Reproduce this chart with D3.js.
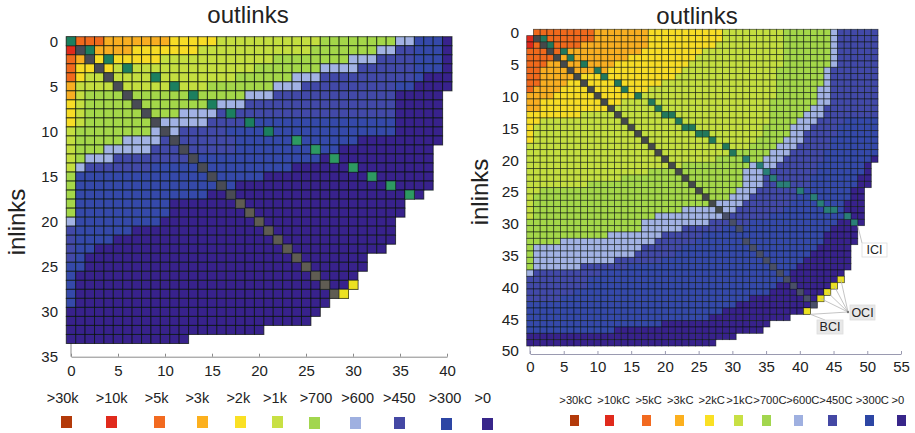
<!DOCTYPE html>
<html>
<head>
<meta charset="utf-8">
<script src="https://d3js.org/d3.v7.min.js"></script>
<style>
  body { margin: 0; background: #fff; }
  text { font-family: "Liberation Sans", Arial, sans-serif; fill: #222; }
</style>
</head>
<body>
<div id="chart"></div>
<script>
// Classes, strongest first
var classKeys = ["a", "b", "c", "d", "e", "f", "g", "h", "i", "j", "k"];
var legendLeft = [">30k", ">10k", ">5k", ">3k", ">2k", ">1k", ">700", ">600", ">450", ">300", ">0"];
var legendRight = [">30kC", ">10kC", ">5kC", ">3kC", ">2kC", ">1kC", ">700C", ">600C", ">450C", ">300C", ">0"];

var leftXTicks = [0, 5, 10, 15, 20, 25, 30, 35, 40];
var leftYTicks = [0, 5, 10, 15, 20, 25, 30, 35];
var rightXTicks = [0, 5, 10, 15, 20, 25, 30, 35, 40, 45, 50, 55];
var rightYTicks = [0, 5, 10, 15, 20, 25, 30, 35, 40, 45, 50];

// each row: class letter + column where that class starts
var leftRows = [
  "b0 c1 d4 e11 f16 g27 h35 j37 k40",
  "b0 c1 d3 e7 f14 g26 h33 i35 j37 k40",
  "c0 d1 e2 f10 g22 h30 i33 j37 k40",
  "c0 e1 f5 g20 h27 i31 j37 k40",
  "c0 e1 f2 g18 h24 i27 j37 k38",
  "d0 f1 g15 h22 i25 j35 k37",
  "d0 f1 g2 h19 i22 k35",
  "e0 f1 g2 h16 i19 k35",
  "e0 f1 g2 h12 i16 k35",
  "e0 f1 g2 h10 i15 j20 k35",
  "f0 g1 h9 i12 j17 k35",
  "f0 g1 h6 i10 j18 k31",
  "f0 g1 h4 i9 j18 k29",
  "f0 g1 h2 i5 j14 k27",
  "f0 h1 i2 j9 k24",
  "g0 j1 k21",
  "g0 j1 k18",
  "g0 j1 k15",
  "g0 j1 k11",
  "g0 j1 k11",
  "h0 j1 k10",
  "i0 j1 k7",
  "i0 j1 k5",
  "i0 j1 k3",
  "i0 j1 k2",
  "j0 k2",
  "j0 k1",
  "j0 k1",
  "j0 k1",
  "j0 k1",
  "k0",
  "k0",
  "k0",
  "k0"
];
var leftWidths = [41, 41, 41, 41, 41, 41, 40, 40, 40, 40, 40, 40, 39, 39, 39, 39, 39, 38, 36, 36,
  35, 35, 35, 34, 32, 32, 31, 31, 30, 28, 27, 26, 21, 13];

// [row, col]
var leftBci = [[1,1],[2,2],[3,3],[4,4],[5,5],[6,6],[7,7],[8,8],[9,9],[10,10],[11,11],[12,12],[13,13],[14,14],
  [15,15],[16,16],[17,17],[18,18],[19,19],[20,20],[21,21],[22,22],[23,23],[24,24],[25,25],[26,26],[27,27],[28,28]];
var leftIci = [[0,0],[1,2],[2,4],[3,6],[4,9],[5,11],[6,13],[7,15],[8,17],[9,19],[10,21],[11,24],[12,26],[13,28],
  [14,30],[15,32],[16,34],[17,36]];
var leftOci = [[27,30],[28,29]];

var rightRows = [
  "_0 c1 d10 e18 f29 g38 h45 i46",
  "b0 c1 d10 e18 f29 g38 h45 i46",
  "b0 c1 d8 e18 f28 g38 h45 i46",
  "c0 d6 e17 f26 g38 h45 i46",
  "c0 d4 e15 f25 g38 h45 i46",
  "c0 d3 e13 f24 g38 h45 i46",
  "c0 d2 e12 f23 g37 h44 i45",
  "c0 d2 e7 f22 g37 h44 i45",
  "c0 d2 e6 f20 g37 h44 i45",
  "c0 d1 e5 f18 g37 h43 i45",
  "d0 e4 f17 g37 h43 i45",
  "d0 e2 f14 g36 h43 i45",
  "d0 e2 f12 g36 h42 i44",
  "e0 f8 g36 h41 i44",
  "e0 f2 g36 h40 i43 j47",
  "e0 f1 g35 h39 i42 j46",
  "e0 f1 g35 h39 i41 j46",
  "e0 f1 g34 h38 i41 j45",
  "f0 g33 h37 i40 j45",
  "f0 g31 h36 i39 j44",
  "f0 g28 h35 i38 j44 k51",
  "f0 g23 h33 i37 j43 k50",
  "f0 g18 h32 i36 j43 k50",
  "f0 g14 h32 i35 j42 k49",
  "f0 g9 h32 i35 j42 k49",
  "f0 g2 h31 i34 j41 k48",
  "f0 g1 h30 i33 j40 k48",
  "f0 g1 h28 i32 j39 k47",
  "f0 g1 h23 i31 j38 k47",
  "f0 g1 h19 i29 j36 k47",
  "g0 h17 i27 j33 k46",
  "g0 h17 i23 j29 k45",
  "g0 h12 i20 j26 k44",
  "g0 h5 i19 j25 k44",
  "g0 h1 i17 j23 k43",
  "g0 h1 i16 j22 k42",
  "g0 h1 i13 j20 k41",
  "g0 h1 i8 j15 k40",
  "h0 i1 j11 k39",
  "i0 j9 k38",
  "i0 j9 k37",
  "i0 j7 k36",
  "i0 j5 k33",
  "j0 k31",
  "j0 k29",
  "j0 k27",
  "j0 k20",
  "j0 k13",
  "k0",
  "k0"
];
var rightWidths = [52, 52, 52, 52, 52, 52, 52, 52, 52, 52, 52, 52, 52, 52, 52, 52, 52, 52, 52, 52, 52,
  51, 51, 51, 51, 50, 50, 50, 50, 50, 50, 49, 49, 49, 48, 48, 48, 48, 47, 47, 46, 45, 44, 43, 42, 39, 36, 35, 31, 28];

var rightBci = [[1,1],[2,2],[3,3],[4,4],[5,5],[6,6],[7,7],[8,8],[9,9],[10,10],[11,11],[12,12],[13,13],[14,14],
  [15,15],[16,16],[17,17],[18,18],[19,19],[20,20],[21,21],[22,22],[23,23],[24,24],[25,25],[26,26],[27,27],[28,28],
  [29,29],[30,30],[31,31],[33,32],[34,33],[35,34],[36,35],[37,36],[38,37],[39,38],[40,39],[41,40],[42,41],[43,42]];
var rightIci = [[1,2],[2,3],[3,5],[4,6],[5,8],[6,10],[7,11],[8,13],[9,14],[10,16],[11,18],[12,19],[13,20],[13,21],
  [14,22],[15,23],[15,24],[16,25],[16,26],[17,27],[18,29],[19,30],[20,32],[21,34],[22,35],[23,36],[24,37],[24,38],
  [25,40],[26,42],[27,43],[28,44],[28,45],[29,47],[30,48]];
var rightOci = [[39,46],[40,45],[41,44],[42,43],[44,41]];

// Styles and layout
var legendColors = ["#b33a0a", "#e02a1c", "#f26a20", "#fcb01e", "#fae024", "#c8e044", "#a2d64e", "#9fb0e0", "#4448a4", "#2d46a4", "#38268a"];
var cellColors = ["#b33a0a", "#e02a1c", "#f0691e", "#f8ae20", "#f7dc26", "#c4de40", "#a4d74a", "#a2b2e4", "#4349a8", "#3549aa", "#37228c"];
var legendScale = d3.scaleOrdinal().domain(classKeys).range(legendColors);
var cellScale = d3.scaleOrdinal().domain(classKeys).range(cellColors);

var svgWidth = 915;
var svgHeight = 433;

var svg = d3.select("#chart")
  .append("svg")
  .attr("width", svgWidth)
  .attr("height", svgHeight)
  .style("display", "block");

svg.append("defs").append("filter")
  .attr("id", "soft")
  .attr("x", "-2%").attr("y", "-2%").attr("width", "104%").attr("height", "104%")
  .append("feGaussianBlur")
  .attr("stdDeviation", 0.4);

// Turn "c0 d4 e11" rows into one record per cell
function rowsToCells(rows, widths) {
  var cells = [];
  rows.forEach(function(row, r) {
    var parts = row.split(" ").map(function(p) {
      return { key: p[0], start: +p.slice(1) };
    });
    parts.forEach(function(p, i) {
      var end = i < parts.length - 1 ? parts[i + 1].start : widths[r];
      if (p.key === "_") return;
      for (var c = p.start; c < end; c++) {
        cells.push({ row: r, col: c, key: p.key });
      }
    });
  });
  return cells;
}

function drawPanel(cfg) {
  var nRows = cfg.rows.length;
  var nCols = d3.max(cfg.widths);

  var colBand = d3.scaleBand().domain(d3.range(nCols)).range(cfg.plotX);
  var rowBand = d3.scaleBand().domain(d3.range(nRows)).range(cfg.plotY);
  var xAxisScale = d3.scaleLinear().domain(cfg.xDomain).range(cfg.xRange);
  var yAxisScale = d3.scaleLinear().domain(cfg.yDomain).range(cfg.yRange);

  var panel = svg.append("g");

  // stub of the y axis that shows below the map
  panel.append("line")
    .attr("x1", xAxisScale(0)).attr("x2", xAxisScale(0))
    .attr("y1", cfg.plotY[1] - 2).attr("y2", cfg.axisY)
    .attr("stroke", cfg.axisColor);

  var map = panel.append("g").attr("filter", "url(#soft)");

  map.selectAll("rect.cell")
    .data(rowsToCells(cfg.rows, cfg.widths))
    .enter()
    .append("rect")
    .attr("class", "cell")
    .attr("x", d => colBand(d.col))
    .attr("y", d => rowBand(d.row))
    .attr("width", colBand.bandwidth())
    .attr("height", rowBand.bandwidth())
    .attr("fill", d => cellScale(d.key))
    .attr("stroke", "#08100a")
    .attr("stroke-opacity", cfg.gridOpacity)
    .attr("stroke-width", cfg.gridWidth);

  function overlay(list, fill) {
    map.selectAll(null)
      .data(list)
      .enter()
      .append("rect")
      .attr("x", d => colBand(d[1]))
      .attr("y", d => rowBand(d[0]))
      .attr("width", colBand.bandwidth())
      .attr("height", rowBand.bandwidth())
      .attr("fill", fill)
      .attr("stroke", "#08100a")
      .attr("stroke-opacity", cfg.gridOpacity * 0.5)
      .attr("stroke-width", cfg.gridWidth);
  }
  overlay(cfg.ici, cfg.iciFill);
  overlay(cfg.bci, cfg.bciFill);
  overlay(cfg.oci, "#ece224");

  var xAxis = d3.axisBottom(xAxisScale)
    .tickValues(cfg.xTicks)
    .tickFormat(d3.format("d"))
    .tickSizeInner(-3)
    .tickSizeOuter(0)
    .tickPadding(cfg.xPad);
  var yAxis = d3.axisLeft(yAxisScale)
    .tickValues(cfg.yTicks)
    .tickFormat(d3.format("d"))
    .tickSize(0)
    .tickPadding(cfg.yPad);

  var gx = panel.append("g").attr("transform", `translate(0,${cfg.axisY})`).call(xAxis);
  gx.select(".domain").attr("stroke", cfg.axisColor);
  gx.selectAll(".tick line").attr("stroke", cfg.axisColor);
  gx.selectAll("text").style("font-size", "15px");

  var gy = panel.append("g").attr("transform", `translate(${xAxisScale(0)},0)`).call(yAxis);
  gy.select(".domain").remove();
  gy.selectAll("text").style("font-size", cfg.yFont);

  panel.append("text")
    .attr("x", cfg.titleX).attr("y", cfg.titleY)
    .attr("text-anchor", "middle")
    .style("font-size", "24px")
    .text("outlinks");

  panel.append("text")
    .attr("transform", `translate(${cfg.yLabelX},${cfg.yLabelY}) rotate(-90)`)
    .attr("text-anchor", "middle")
    .style("font-size", "24px")
    .text("inlinks");

  return { colBand: colBand, rowBand: rowBand, panel: panel };
}

var leftPanel = drawPanel({
  rows: leftRows, widths: leftWidths, bci: leftBci, ici: leftIci, oci: leftOci,
  plotX: [66.3, 452], plotY: [36.7, 343.5],
  xDomain: [0, 40], xRange: [71, 447],
  yDomain: [0, 35], yRange: [41.5, 356.5],
  xTicks: leftXTicks, yTicks: leftYTicks,
  axisY: 356.7, xPad: 9, yPad: 13, yFont: "15px",
  axisColor: "#8a8a8a", gridOpacity: 0.72, gridWidth: 1,
  iciFill: d => d[0] < 11 ? "#1f7f5f" : "#2e9a62",
  bciFill: d => d[0] < 18 ? "#484c55" : "#5e5c52",
  titleX: 248, titleY: 23, yLabelX: 25, yLabelY: 222
});

var rightPanel = drawPanel({
  rows: rightRows, widths: rightWidths, bci: rightBci, ici: rightIci, oci: rightOci,
  plotX: [526.7, 878], plotY: [29.3, 346],
  xDomain: [0, 55], xRange: [530, 901],
  yDomain: [0, 50], yRange: [33, 351],
  xTicks: rightXTicks, yTicks: rightYTicks,
  axisY: 354, xPad: 7.5, yPad: 11, yFont: "15.5px",
  axisColor: "#9a9ab0", gridOpacity: 0.66, gridWidth: 0.8,
  iciFill: d => d[0] < 20 ? "#21785c" : "#2a7f78",
  bciFill: d => d[0] < 29 ? "#454a4c" : "#4a4f68",
  titleX: 697, titleY: 24, yLabelX: 488, yLabelY: 192
});

// Legends
var legendLeftTextX = [62.7, 111.7, 156.7, 197.3, 238.3, 275, 316, 357.7, 399.3, 445, 482.7];
var legendLeftBoxX = [61, 106, 154, 197, 235, 272, 309, 350, 394, 441, 482];
var legendLeftBoxY = [416, 416, 416, 416, 416, 416, 417, 417, 417, 418, 418];
var legendRightTextX = [575.7, 613.7, 648.7, 680.3, 711.7, 739.5, 770, 802.8, 836, 872.3, 897.8];
var legendRightBoxX = [570, 605, 642, 675, 705, 734, 762, 794, 828, 865, 897];

svg.selectAll("text.legendLeft")
  .data(legendLeft)
  .enter()
  .append("text")
  .attr("class", "legendLeft")
  .attr("x", (d, i) => legendLeftTextX[i])
  .attr("y", 403)
  .attr("text-anchor", "middle")
  .style("font-size", "14.5px")
  .text(d => d);

svg.selectAll("rect.legendLeft")
  .data(classKeys)
  .enter()
  .append("rect")
  .attr("class", "legendLeft")
  .attr("x", (d, i) => legendLeftBoxX[i])
  .attr("y", (d, i) => legendLeftBoxY[i])
  .attr("width", 11)
  .attr("height", 12)
  .attr("fill", d => legendScale(d));

svg.selectAll("text.legendRight")
  .data(legendRight)
  .enter()
  .append("text")
  .attr("class", "legendRight")
  .attr("x", (d, i) => legendRightTextX[i])
  .attr("y", 404)
  .attr("text-anchor", "middle")
  .style("font-size", "11.2px")
  .text(d => d);

svg.selectAll("rect.legendRight")
  .data(classKeys)
  .enter()
  .append("rect")
  .attr("class", "legendRight")
  .attr("x", (d, i) => legendRightBoxX[i])
  .attr("y", 415)
  .attr("width", 9)
  .attr("height", 11)
  .attr("fill", d => legendScale(d));

// Callouts on the right panel
var cb = rightPanel.colBand, rb = rightPanel.rowBand;
var bw = cb.bandwidth(), bh = rb.bandwidth();
var callouts = svg.append("g");
var ociHub = [848, 312];

rightOci.slice(0, 4).forEach(function(d) {
  callouts.append("line")
    .attr("x1", cb(d[1]) + bw / 2).attr("y1", rb(d[0]) + bh / 2)
    .attr("x2", ociHub[0]).attr("y2", ociHub[1])
    .attr("stroke", "#b5b5b5").attr("stroke-width", 0.8);
});
var bciCell = rightOci[4];
callouts.append("line")
  .attr("x1", cb(bciCell[1]) + bw).attr("y1", rb(bciCell[0]) + bh)
  .attr("x2", ociHub[0]).attr("y2", ociHub[1])
  .attr("stroke", "#b5b5b5").attr("stroke-width", 0.8);
callouts.append("line")
  .attr("x1", cb(bciCell[1]) + bw).attr("y1", rb(bciCell[0]) + bh)
  .attr("x2", 825).attr("y2", 320)
  .attr("stroke", "#b5b5b5").attr("stroke-width", 0.8);
callouts.append("circle")
  .attr("cx", ociHub[0]).attr("cy", ociHub[1]).attr("r", 1.2).attr("fill", "#777");

var iciCell = rightIci[rightIci.length - 1];
callouts.append("polyline")
  .attr("points", [[cb(iciCell[1]) + bw, rb(iciCell[0]) + bh], [862, 243]].join(" "))
  .attr("fill", "none")
  .attr("stroke", "#b5b5b5").attr("stroke-width", 0.8);

var calloutLabels = ["ICI", "OCI", "BCI"];
var calloutBoxes = [[862, 243, 25, 14, "#ffffff"], [850, 305, 25, 15, "#e8e8e8"], [817, 320, 26, 14, "#e8e8e8"]];
calloutLabels.forEach(function(label, i) {
  var b = calloutBoxes[i];
  callouts.append("rect")
    .attr("x", b[0]).attr("y", b[1]).attr("width", b[2]).attr("height", b[3])
    .attr("fill", b[4]).attr("stroke", "#dddddd").attr("stroke-width", 0.8);
  callouts.append("text")
    .attr("x", b[0] + b[2] / 2).attr("y", b[1] + b[3] - 2.8)
    .attr("text-anchor", "middle")
    .style("font-size", "12.5px")
    .text(label);
});
</script>
</body>
</html>
